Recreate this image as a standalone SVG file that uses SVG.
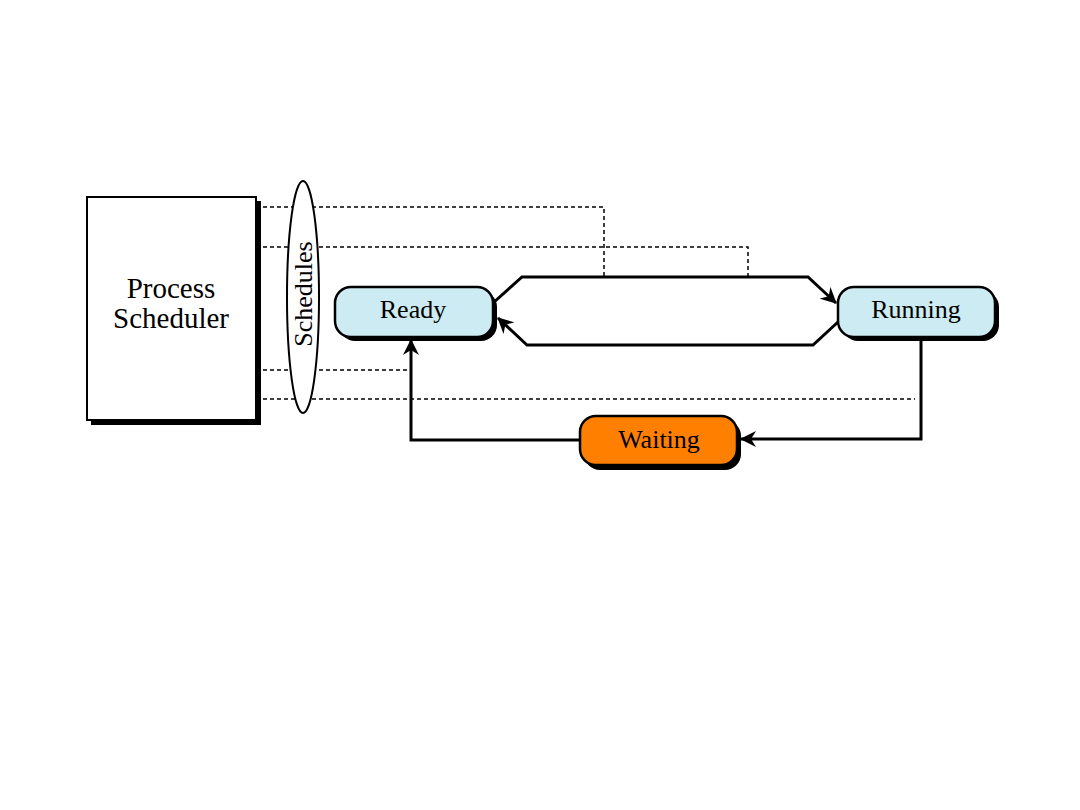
<svg xmlns="http://www.w3.org/2000/svg" width="1080" height="810" viewBox="0 0 1080 810">
<defs>
<style>
.box{fill:#fff;stroke:#000;stroke-width:2}
.shadow{fill:#000;stroke:none}
.state{stroke:#000;stroke-width:2.5}
.lbl{font-family:"Liberation Serif","Times New Roman",serif;fill:#000;text-anchor:middle}
.dash{fill:none;stroke:#000;stroke-width:1.5;stroke-dasharray:4,3}
.flow{fill:none;stroke:#000;stroke-width:3}
</style>
<marker id="arr" viewBox="0 0 16 16" refX="15" refY="8" markerWidth="16" markerHeight="16" markerUnits="userSpaceOnUse" orient="auto">
<path d="M0,0 L16,8 L0,16 L5,8 Z" fill="#000"/>
</marker>
</defs>
<rect width="1080" height="810" fill="#fff"/>
<g id="connectors">
<path class="dash" d="M256,207 H604 V277"/>
<path class="dash" d="M256,247 H748 V277"/>
<path class="dash" d="M256,370 H407"/>
<path class="dash" d="M256,399 H915"/>
<path class="flow" d="M493,303 L522,277 H808 L836,303" marker-end="url(#arr)"/>
<path class="flow" d="M838,322 L813,345 H527 L498,318" marker-end="url(#arr)"/>
<path class="flow" d="M921,337 V439 H741" marker-end="url(#arr)"/>
<path class="flow" d="M580,440 H411 V340" marker-end="url(#arr)"/>
</g>
<g id="process-scheduler">
<rect class="shadow" x="91" y="201" width="170" height="224"/>
<rect class="box" x="87" y="197" width="169" height="223"/>
<text class="lbl" x="171" y="298" font-size="29">Process</text>
<text class="lbl" x="171" y="328" font-size="29">Scheduler</text>
</g>
<g id="schedules">
<ellipse cx="303" cy="297" rx="16" ry="116" fill="#fff" stroke="#000" stroke-width="2"/>
<text class="lbl" font-size="26" transform="translate(312,294) rotate(-90)">Schedules</text>
</g>
<g id="ready">
<rect class="shadow" x="339" y="291" width="158" height="50" rx="16"/>
<rect class="state" x="335" y="287" width="158" height="50" rx="16" fill="#cdebf2"/>
<text class="lbl" x="413" y="318" font-size="26">Ready</text>
</g>
<g id="running">
<rect class="shadow" x="842" y="291" width="157" height="50" rx="16"/>
<rect class="state" x="838" y="287" width="157" height="50" rx="16" fill="#cdebf2"/>
<text class="lbl" x="916" y="318" font-size="26">Running</text>
</g>
<g id="waiting">
<rect class="shadow" x="584" y="420" width="157" height="50" rx="16"/>
<rect class="state" x="580" y="416" width="157" height="49" rx="16" fill="#ff8000"/>
<text class="lbl" x="659" y="448" font-size="26">Waiting</text>
</g>
</svg>
